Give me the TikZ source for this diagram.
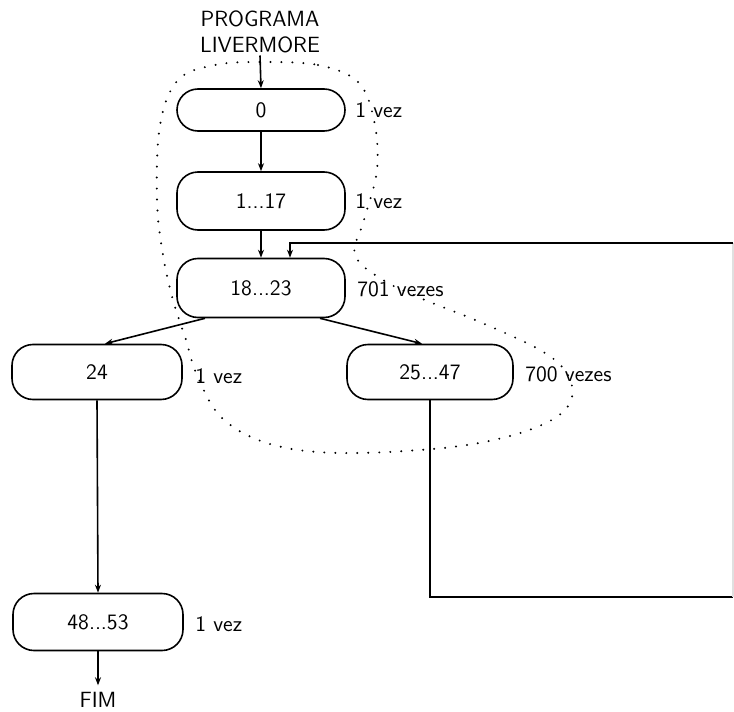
\documentclass[tikz,border=0pt]{standalone}
\usetikzlibrary{arrows.meta,calc}
\begin{document}
\begin{tikzpicture}[x=0.5pt,y=-0.5pt,
  font=\fontsize{11}{13}\selectfont\sffamily,
  blockbox/.style={draw,line width=0.8pt,rounded corners=10.5pt,minimum width=84pt,inner sep=0pt},
  flow/.style={line width=0.8pt,-{Stealth[length=4pt,width=3pt]}},
  plainline/.style={line width=0.8pt},
  count/.style={anchor=west,inner sep=0pt},
  region/.style={line width=1.1pt,line cap=round,dash pattern=on 0pt off 5.5pt}]
\useasboundingbox (0,0) rectangle (734,712);

% program blocks
\node (prog) [align=center,inner sep=1pt] at (260,32) {PROGRAMA\\LIVERMORE};
\node (b0)  [blockbox,minimum height=21pt] at (261,110) {0};
\node (b1)  [blockbox,minimum height=29pt] at (261,201) {1...17};
\node (b18) [blockbox,minimum height=29.5pt] at (261,288) {18...23};
\node (b24) [blockbox,minimum height=27.5pt,minimum width=85pt] at (97,372) {24};
\node (b25) [blockbox,minimum height=27.5pt,minimum width=83pt] at (430,372) {25...47};
\node (b48) [blockbox,minimum height=28.5pt,minimum width=85pt] at (98,622) {48...53};
\node (fim) at (98,700) {FIM};

% execution counts
\node (c0)  [count] at (355,110) {1 vez};
\node (c1)  [count] at (355,201) {1 vez};
\node (c18) [count] at (357,289) {701 vezes};
\node (c24) [count] at (195,376) {1 vez};
\node (c25) [count] at (525,374) {700 vezes};
\node (c48) [count] at (195,624) {1 vez};

% control flow
\draw[flow] (prog.south) -- (b0.north);
\draw[flow] (b0.south) -- (b1.north);
\draw[flow] (b1.south) -- (b18.north);
\draw[flow] ([xshift=-28pt]b18.south) -- ([xshift=4pt]b24.north);
\draw[flow] ([xshift=29.5pt]b18.south) -- ([xshift=-4pt]b25.north);
\draw[flow] (b24.south) -- (b48.north);
\draw[flow] (b48.south) -- (fim.north);

% loop back from 25...47 to 18...23
\coordinate (lb) at (b25.south |- 0,597);
\coordinate (rb) at (733,597);
\coordinate (rt) at (733,243);
\coordinate (lt) at (290,243);
\draw[plainline] (b25.south) -- (lb) -- (rb);
\draw[plainline,black!12] (rb) -- (rt);
\draw[flow] (rt) -- (lt) -- (lt |- b18.north);

% dotted region around the loop
\draw[region] plot[smooth cycle,tension=0.6] coordinates {
  (260,62) (318,65) (358,82) (374,120) (377,170) (364,220) (355,255)
  (383,280) (425,300) (480,322) (540,350) (566,372) (572,397) (555,418)
  (510,436) (443,448) (340,453) (270,444) (222,418) (197,375) (186,340)
  (173,300) (163,255) (157,200) (160,125) (178,80) (215,65)};
\end{tikzpicture}
\end{document}
